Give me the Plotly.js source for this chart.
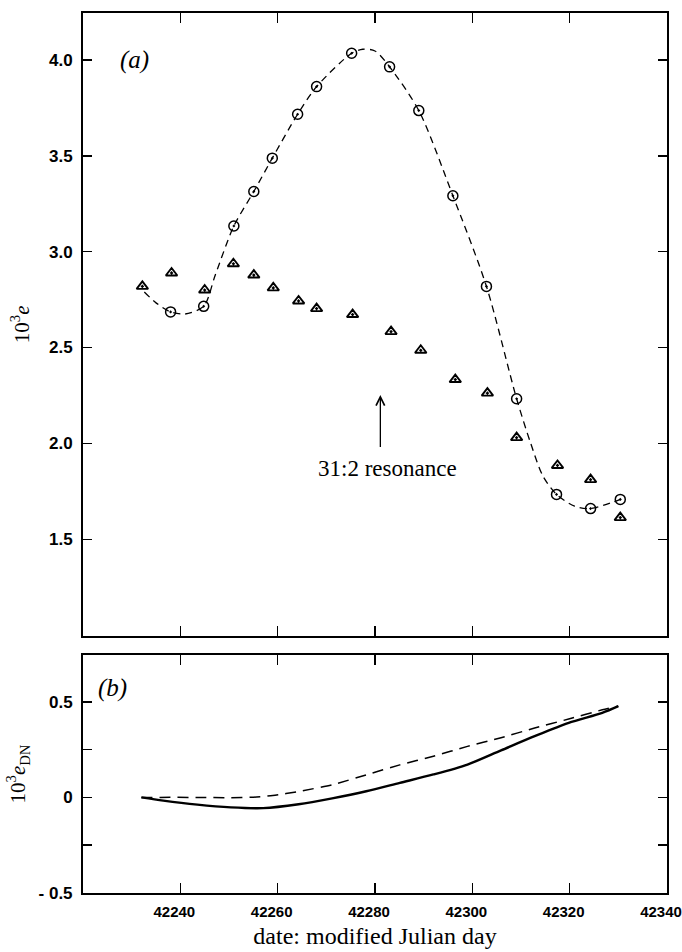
<!DOCTYPE html>
<html><head><meta charset="utf-8">
<script src="https://cdn.plot.ly/plotly-3.0.1.min.js"></script>
<style>html,body{margin:0;padding:0;background:#fff}</style>
</head><body>
<div id="chart" style="width:682px;height:952px"></div>
<script>
// ---- Data ----
const circleDay = [42238.0, 42244.8, 42251.0, 42255.1, 42258.9, 42264.1, 42268.0, 42275.2, 42283.0, 42289.0, 42296.0, 42302.9, 42309.1, 42317.3, 42324.3, 42330.4];
const circleE   = [2.686, 2.715, 3.134, 3.314, 3.488, 3.717, 3.861, 4.035, 3.964, 3.736, 3.292, 2.819, 2.233, 1.734, 1.660, 1.708];

const triDay = [42232.2, 42238.2, 42245.0, 42250.9, 42255.1, 42259.1, 42264.3, 42268.0, 42275.4, 42283.3, 42289.4, 42296.5, 42303.1, 42309.1, 42317.5, 42324.3, 42330.4];
const triE   = [2.819, 2.889, 2.800, 2.937, 2.878, 2.811, 2.743, 2.703, 2.672, 2.583, 2.486, 2.333, 2.262, 2.030, 1.885, 1.811, 1.613];

const fitDay = [42232.6, 42235.0, 42238.0, 42241.0, 42244.8, 42247.2, 42251.0, 42255.1, 42258.9, 42264.1, 42268.0, 42275.2, 42277.5, 42280.0, 42283.0, 42289.0, 42296.0, 42302.9, 42309.1, 42312.0, 42314.5, 42317.3, 42321.0, 42324.3, 42330.4];
const fitE   = [2.790, 2.733, 2.686, 2.675, 2.715, 2.880, 3.134, 3.314, 3.488, 3.717, 3.861, 4.035, 4.056, 4.047, 3.964, 3.736, 3.292, 2.819, 2.233, 2.000, 1.830, 1.734, 1.673, 1.660, 1.708];

const dnSolidDay = [42232.0, 42236.5, 42243.5, 42250.4, 42257.0, 42264.3, 42271.2, 42278.2, 42285.1, 42292.0, 42299.0, 42305.9, 42312.8, 42319.8, 42326.7, 42330.0];
const dnSolidE   = [0.000, -0.017, -0.038, -0.052, -0.056, -0.036, -0.005, 0.032, 0.076, 0.120, 0.172, 0.246, 0.320, 0.390, 0.442, 0.477];

const dnDashDay = [42232.0, 42243.5, 42250.4, 42255.0, 42259.0, 42264.3, 42271.2, 42278.2, 42285.1, 42292.0, 42299.0, 42305.9, 42312.8, 42319.8, 42326.7, 42330.0];
const dnDashE   = [0.000, 0.000, -0.002, 0.001, 0.010, 0.031, 0.066, 0.118, 0.170, 0.215, 0.267, 0.312, 0.363, 0.410, 0.458, 0.477];

const xTickVals = [42240, 42260, 42280, 42300, 42320, 42340];
const xTickText = ['42240', '42260', '42280', '42300', '42320', '42340'];
const eTickVals = [1.5, 2.0, 2.5, 3.0, 3.5, 4.0];
const eTickText = ['1.5', '2.0', '2.5', '3.0', '3.5', '4.0'];
const dnTickVals = [-0.5, 0, 0.5];
const dnTickText = ['- 0.5', '0', '0.5'];
const dnMinorVals = [-0.25, 0.25];

const resonanceDay = 42281.1;
const panelLabels = ['(a)', '(b)'];

// ---- Styles ----
const SERIF = 'Liberation Serif, DejaVu Serif, serif';
const SANS = 'Liberation Sans, DejaVu Sans, Arial, sans-serif';
const black = '#000';

const traces = [
  { x: fitDay, y: fitE, xaxis: 'x', yaxis: 'y', mode: 'lines',
    line: { color: black, width: 1.3, dash: '7px,5px', shape: 'spline', smoothing: 0.8 },
    hoverinfo: 'skip', showlegend: false },
  { x: circleDay, y: circleE, xaxis: 'x', yaxis: 'y', mode: 'markers', name: 'observed',
    marker: { symbol: 'circle-open-dot', size: 10, color: black, line: { color: black, width: 1.5 } },
    showlegend: false },
  { x: triDay, y: triE, xaxis: 'x', yaxis: 'y', mode: 'markers', name: 'computed',
    marker: { symbol: 'triangle-up-open-dot', size: 10, color: black, line: { color: black, width: 1.9 } },
    showlegend: false },
  { x: dnDashDay, y: dnDashE, xaxis: 'x2', yaxis: 'y2', mode: 'lines',
    line: { color: black, width: 1.5, dash: '11px,7px', shape: 'spline', smoothing: 0.6 },
    showlegend: false },
  { x: dnSolidDay, y: dnSolidE, xaxis: 'x2', yaxis: 'y2', mode: 'lines',
    line: { color: black, width: 2.4, shape: 'spline', smoothing: 0.8 },
    showlegend: false }
];

const commonX = {
  range: [42220, 42340], tickmode: 'array', tickvals: xTickVals,
  ticks: 'inside', ticklen: 10, tickwidth: 1.5, tickcolor: black,
  showline: true, linecolor: black, linewidth: 2, mirror: 'ticks',
  showgrid: false, zeroline: false
};
const commonY = {
  ticks: 'inside', ticklen: 9, tickwidth: 1.5, tickcolor: black,
  showline: true, linecolor: black, linewidth: 2, mirror: 'ticks',
  showgrid: false, zeroline: false, tickmode: 'array',
  tickfont: { family: SANS, size: 17, color: black, weight: 'bold' },
  ticklabelstandoff: 5
};

const layout = {
  width: 682, height: 952,
  margin: { l: 83, r: 15, t: 13, b: 59 },
  paper_bgcolor: '#fff', plot_bgcolor: '#fff',
  showlegend: false,
  xaxis: Object.assign({}, commonX, { anchor: 'y', showticklabels: false }),
  yaxis: Object.assign({}, commonY, {
    domain: [0.2924, 1], range: [0.997, 4.245],
    tickvals: eTickVals, ticktext: eTickText,
    title: { text: '10<sup>3</sup><i>e</i>', font: { family: SERIF, size: 21, color: black }, standoff: 14 }
  }),
  xaxis2: Object.assign({}, commonX, {
    anchor: 'y2', showticklabels: true, ticktext: xTickText,
    tickfont: { family: SANS, size: 15, color: black, weight: 'bold' },
    ticklabelstandoff: 4, ticklabeloverflow: 'allow', ticklabelshift: -6,
    title: { text: 'date: modified Julian day', font: { family: SERIF, size: 24, color: black }, standoff: 8 }
  }),
  yaxis2: Object.assign({}, commonY, {
    domain: [0, 0.2705], range: [-0.5, 0.745],
    tickvals: dnTickVals, ticktext: dnTickText,
    minor: { tickmode: 'array', tickvals: dnMinorVals, ticks: 'inside', ticklen: 9, tickwidth: 1.5, tickcolor: black, showgrid: false },
    title: { text: '10<sup>3</sup><i>e</i><sub>DN</sub>', font: { family: SERIF, size: 21, color: black }, standoff: 7 }
  }),
  annotations: [
    { xref: 'x', yref: 'y', x: 42230.5, y: 4.0, text: '<i>' + panelLabels[0] + '</i>', showarrow: false,
      font: { family: SERIF, size: 25, color: black } },
    { xref: 'x2', yref: 'y2', x: 42226.1, y: 0.573, text: '<i>' + panelLabels[1] + '</i>', showarrow: false,
      font: { family: SERIF, size: 25, color: black } },
    { xref: 'x', yref: 'y', x: resonanceDay, y: 2.252, ax: resonanceDay, ay: 1.974, axref: 'x', ayref: 'y',
      text: '', showarrow: true, arrowhead: 5, arrowsize: 1.3, arrowwidth: 1.3, arrowcolor: black, standoff: 0 },
    { xref: 'x', yref: 'y', x: 42282.6, y: 1.87, text: '31:2 resonance', showarrow: false,
      font: { family: SERIF, size: 23, color: black } }
  ]
};

Plotly.newPlot('chart', traces, layout, { displayModeBar: false, staticPlot: true });
</script>
</body></html>
